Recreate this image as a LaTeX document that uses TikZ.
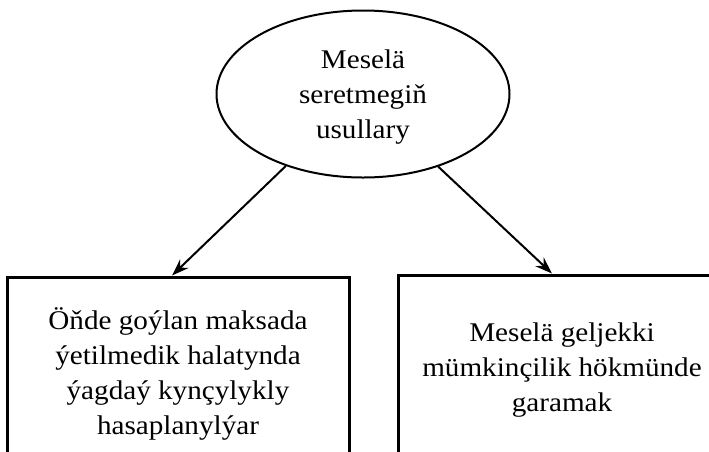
\documentclass[tikz,border=0pt]{standalone}
\usepackage{fontspec}
\setmainfont[FakeStretch=1.08]{Liberation Serif}
\usetikzlibrary{shapes.geometric,arrows.meta}
\tikzset{
  txt/.style={font=\fontsize{27}{35}\selectfont, align=center, inner sep=0pt},
  oval/.style={txt, ellipse, draw, line width=2pt, minimum width=293pt, minimum height=167pt},
  box/.style={txt, draw, line width=3pt},
  link/.style={->, line width=2pt},
}
\begin{document}
\begin{tikzpicture}[x=1pt, y=-1pt, >={Stealth[length=17pt,width=12pt]}]
\useasboundingbox (0,0) rectangle (709,451);
\clip (0,0) rectangle (709,451);
\node[oval] (top) at (363,94) {\rule{0pt}{24pt}Meselä\\seretmegiň\\usullary};
\node[box, minimum width=342pt, minimum height=193pt] (lbox) at (178,373.5)
    {Öňde goýlan maksada\\ ýetilmedik halatynda\\ ýagdaý kynçylykly\\ hasaplanylýar};
\node[box, minimum width=328pt, minimum height=190pt] (rbox) at (562,370)
    {Meselä geljekki\\ mümkinçilik hökmünde\\ garamak};
\draw[link] (top.223.5)--([xshift=-6pt]lbox.north);
\draw[link] (top.316)--([xshift=-10pt]rbox.north);
\end{tikzpicture}
\end{document}
